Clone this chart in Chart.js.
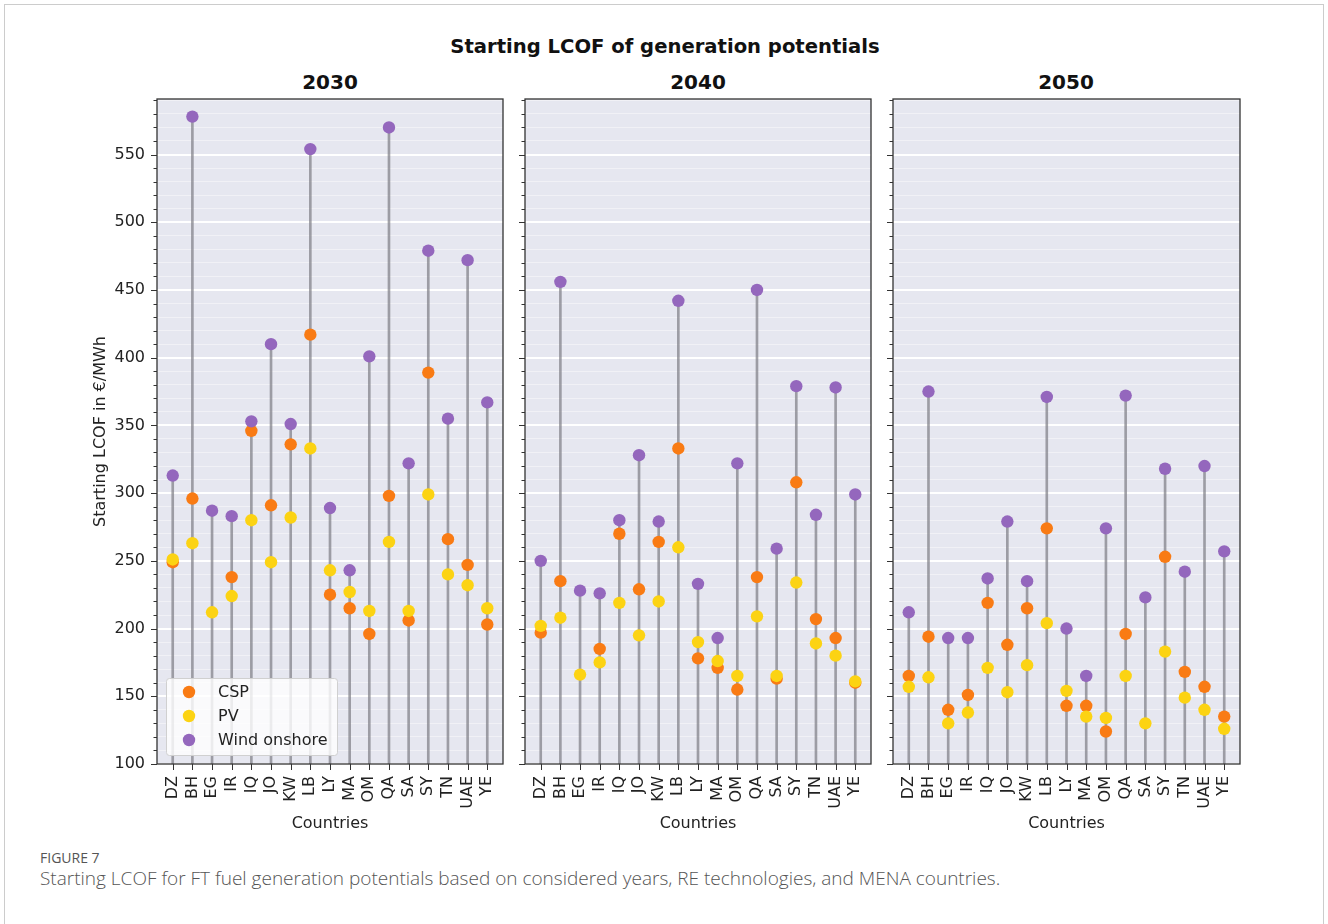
<!DOCTYPE html>
<html>
<head>
<meta charset="utf-8">
<script src="https://cdn.jsdelivr.net/npm/chart.js@4.4.1/dist/chart.umd.min.js"></script>
<style>
html,body{margin:0;padding:0;background:#fff;}
#wrap{position:relative;width:1328px;height:924px;overflow:hidden;background:#fff;}
.card{position:absolute;left:4px;top:4px;width:1320px;height:980px;border:1px solid #cccccc;box-sizing:border-box;}
canvas{position:absolute;}
.t{position:absolute;font-family:'DejaVu Sans',sans-serif;font-weight:bold;color:#111;white-space:nowrap;transform:translate(-50%,-50%);}
.cap1{position:absolute;left:40px;top:848px;font-family:'Open Sans','Noto Sans',sans-serif;font-size:14px;line-height:19px;color:#555;white-space:nowrap;}
.cap2{position:absolute;left:40px;top:865px;font-family:'Open Sans','Noto Sans',sans-serif;font-size:19px;line-height:26px;font-weight:300;color:#555;white-space:nowrap;}
</style>
</head>
<body>
<div id="wrap">
  <div class="card"></div>
  <div class="t" style="left:665px;top:46px;font-size:19.6px;">Starting LCOF of generation potentials</div>
  <div class="t" style="left:330px;top:82px;font-size:20px;">2030</div>
  <div class="t" style="left:698px;top:82px;font-size:20px;">2040</div>
  <div class="t" style="left:1066px;top:82px;font-size:20px;">2050</div>
  <canvas id="c2030"></canvas>
  <canvas id="c2040"></canvas>
  <canvas id="c2050"></canvas>
  <div class="cap1">FIGURE 7</div>
  <div class="cap2">Starting LCOF for FT fuel generation potentials based on considered years, RE technologies, and MENA countries.</div>
</div>
<script>
// ---------------- DATA ----------------
const countries = ['DZ','BH','EG','IR','IQ','JO','KW','LB','LY','MA','OM','QA','SA','SY','TN','UAE','YE'];
const seriesNames = ['CSP','PV','Wind onshore'];
const yMajorTicks = [100,150,200,250,300,350,400,450,500,550];

const csp2030  = [249, 296, null, 238, 346, 291, 336, 417, 225, 215, 196, 298, 206, 389, 266, 247, 203];
const pv2030   = [251, 263, 212, 224, 280, 249, 282, 333, 243, 227, 213, 264, 213, 299, 240, 232, 215];
const wind2030 = [313, 578, 287, 283, 353, 410, 351, 554, 289, 243, 401, 570, 322, 479, 355, 472, 367];

const csp2040  = [197, 235, null, 185, 270, 229, 264, 333, 178, 171, 155, 238, 163, 308, 207, 193, 160];
const pv2040   = [202, 208, 166, 175, 219, 195, 220, 260, 190, 176, 165, 209, 165, 234, 189, 180, 161];
const wind2040 = [250, 456, 228, 226, 280, 328, 279, 442, 233, 193, 322, 450, 259, 379, 284, 378, 299];

const csp2050  = [165, 194, 140, 151, 219, 188, 215, 274, 143, 143, 124, 196, null, 253, 168, 157, 135];
const pv2050   = [157, 164, 130, 138, 171, 153, 173, 204, 154, 135, 134, 165, 130, 183, 149, 140, 126];
const wind2050 = [212, 375, 193, 193, 237, 279, 235, 371, 200, 165, 274, 372, 223, 318, 242, 320, 257];

// ---------------- STYLE ----------------
const Y_MIN = 100, Y_MAX = 591;
const COLORS = {'CSP':'#f97b14', 'PV':'#fcd313', 'Wind onshore':'#9467bd'};
const FONT = 'DejaVu Sans';
const TXT = '#222222';

const panels = [
  {id:'c2030', csp:csp2030, pv:pv2030, wind:wind2030, left:87,  axisW:70, plotW:346, showY:true,  legend:true},
  {id:'c2040', csp:csp2040, pv:pv2040, wind:wind2040, left:505, axisW:20, plotW:346, showY:false, legend:false},
  {id:'c2050', csp:csp2050, pv:pv2050, wind:wind2050, left:873, axisW:20, plotW:347, showY:false, legend:false}
];
const TOP_PAD = 10, RIGHT_PAD = 10, X_AXIS_H = 73, PLOT_H = 665, CANVAS_TOP = 89;

const bgPlugin = {
  id:'bg',
  beforeDraw(chart){
    const a = chart.chartArea, ctx = chart.ctx;
    ctx.save(); ctx.fillStyle = '#e6e7f0';
    ctx.fillRect(a.left, a.top, a.right-a.left, a.bottom-a.top);
    ctx.restore();
  }
};

const legendPlugin = {
  id:'innerLegend',
  afterDatasetsDraw(chart, args, opts){
    if(!opts.show) return;
    const a = chart.chartArea, ctx = chart.ctx;
    const bx = a.left + 9, bw = 171, bh = 77, by = a.bottom - 9 - bh;
    ctx.save();
    ctx.beginPath();
    if (ctx.roundRect) ctx.roundRect(bx+0.5, by+0.5, bw, bh, 3); else ctx.rect(bx+0.5, by+0.5, bw, bh);
    ctx.fillStyle = 'rgba(255,255,255,0.8)'; ctx.fill();
    ctx.strokeStyle = '#d0d0d0'; ctx.lineWidth = 1; ctx.stroke();
    ctx.font = '16px "' + FONT + '"'; ctx.textBaseline = 'middle'; ctx.textAlign = 'left';
    seriesNames.forEach((name, k) => {
      const ds = chart.data.datasets.find(d => d.label === name);
      const y = by + 14 + k*24;
      ctx.beginPath(); ctx.arc(bx + 23, y, 6.2, 0, Math.PI*2);
      ctx.fillStyle = ds.backgroundColor; ctx.fill();
      ctx.fillStyle = TXT; ctx.fillText(name, bx + 52, y + 1);
    });
    ctx.restore();
  }
};

const framePlugin = {
  id:'frame',
  afterDraw(chart){
    const a = chart.chartArea, ctx = chart.ctx;
    const ys = chart.scales.y, xs = chart.scales.x;
    ctx.save();
    ctx.strokeStyle = '#333'; ctx.lineWidth = 1;
    ctx.beginPath();
    for (let v = Y_MIN; v < Y_MAX; v += 10) {
      const py = Math.round(ys.getPixelForValue(v)) + 0.5;
      const len = (v % 50 === 0) ? 6 : 3.5;
      ctx.moveTo(a.left, py); ctx.lineTo(a.left - len, py);
    }
    countries.forEach((c, i) => {
      const px = Math.round(xs.getPixelForValue(i)) + 0.5;
      ctx.moveTo(px, a.bottom); ctx.lineTo(px, a.bottom + 6);
    });
    ctx.stroke();
    ctx.lineWidth = 1.3; ctx.strokeStyle = '#333';
    ctx.strokeRect(a.left, a.top, a.right - a.left, a.bottom - a.top);
    ctx.restore();
  }
};

function pts(arr){ return arr.map((v,i) => v == null ? null : {x:i, y:v}).filter(Boolean); }

function makeChart(p){
  const cv = document.getElementById(p.id);
  const W = p.axisW + p.plotW + RIGHT_PAD, H = TOP_PAD + PLOT_H + X_AXIS_H;
  cv.width = W; cv.height = H;
  cv.style.left = p.left + 'px'; cv.style.top = CANVAS_TOP + 'px';
  cv.style.width = W + 'px'; cv.style.height = H + 'px';
  const stems = countries.map((c, i) => {
    const vals = [p.csp[i], p.pv[i], p.wind[i]].filter(v => v != null);
    return {x:i, y:[Y_MIN, Math.max(...vals)]};
  });
  const ptStyle = (name, order, data) => ({
    label:name, data:data, order:order,
    backgroundColor:COLORS[name], borderColor:COLORS[name],
    pointRadius:6.2, pointHoverRadius:6.2, pointBorderWidth:0, showLine:false
  });
  return new Chart(cv, {
    type:'scatter',
    data:{datasets:[
      ptStyle('Wind onshore', 0, pts(p.wind)),
      ptStyle('PV', 1, pts(p.pv)),
      ptStyle('CSP', 2, pts(p.csp)),
      {type:'bar', label:'stem', data:stems, order:3, backgroundColor:'rgba(128,128,134,0.72)',
       barThickness:2, grouped:false, borderWidth:0}
    ]},
    options:{
      responsive:false, animation:false, devicePixelRatio:1,
      layout:{padding:{top:TOP_PAD, right:RIGHT_PAD, left:0, bottom:0}},
      plugins:{legend:{display:false}, tooltip:{enabled:false}, innerLegend:{show:p.legend}},
      scales:{
        x:{
          type:'linear', min:-0.8, max:16.8, offset:false,
          afterBuildTicks: s => { s.ticks = countries.map((c,i) => ({value:i})); },
          afterFit: s => { s.height = X_AXIS_H; s.paddingLeft = 0; s.paddingRight = 0; },
          grid:{display:false, drawTicks:false}, border:{display:false},
          ticks:{autoSkip:false, minRotation:90, maxRotation:90, padding:12, color:TXT,
                 font:{family:FONT, size:16}, callback:(v) => countries[v] ?? ''},
          title:{display:true, text:'Countries', color:TXT, font:{family:FONT, size:16}, padding:{top:4, bottom:4}}
        },
        y:{
          type:'linear', min:Y_MIN, max:Y_MAX,
          afterBuildTicks: s => { const t = []; for (let v = Y_MIN; v < Y_MAX; v += 10) t.push({value:v}); s.ticks = t; },
          afterFit: s => { s.width = p.axisW; s.paddingTop = 0; s.paddingBottom = 0; },
          grid:{drawTicks:false,
                color: c => (c.tick && c.tick.value % 50 === 0) ? '#ffffff' : 'rgba(255,255,255,0.55)',
                lineWidth: c => (c.tick && c.tick.value % 50 === 0) ? 2 : 0.8},
          border:{display:false},
          ticks:{display:p.showY, autoSkip:false, padding:12, color:TXT, font:{family:FONT, size:16},
                 callback: v => yMajorTicks.includes(v) ? String(v) : ''},
          title:{display:p.showY, text:'Starting LCOF in €/MWh', color:TXT, font:{family:FONT, size:16}, padding:{top:4, bottom:4}}
        }
      }
    },
    plugins:[bgPlugin, legendPlugin, framePlugin]
  });
}
panels.forEach(makeChart);
</script>
</body>
</html>
